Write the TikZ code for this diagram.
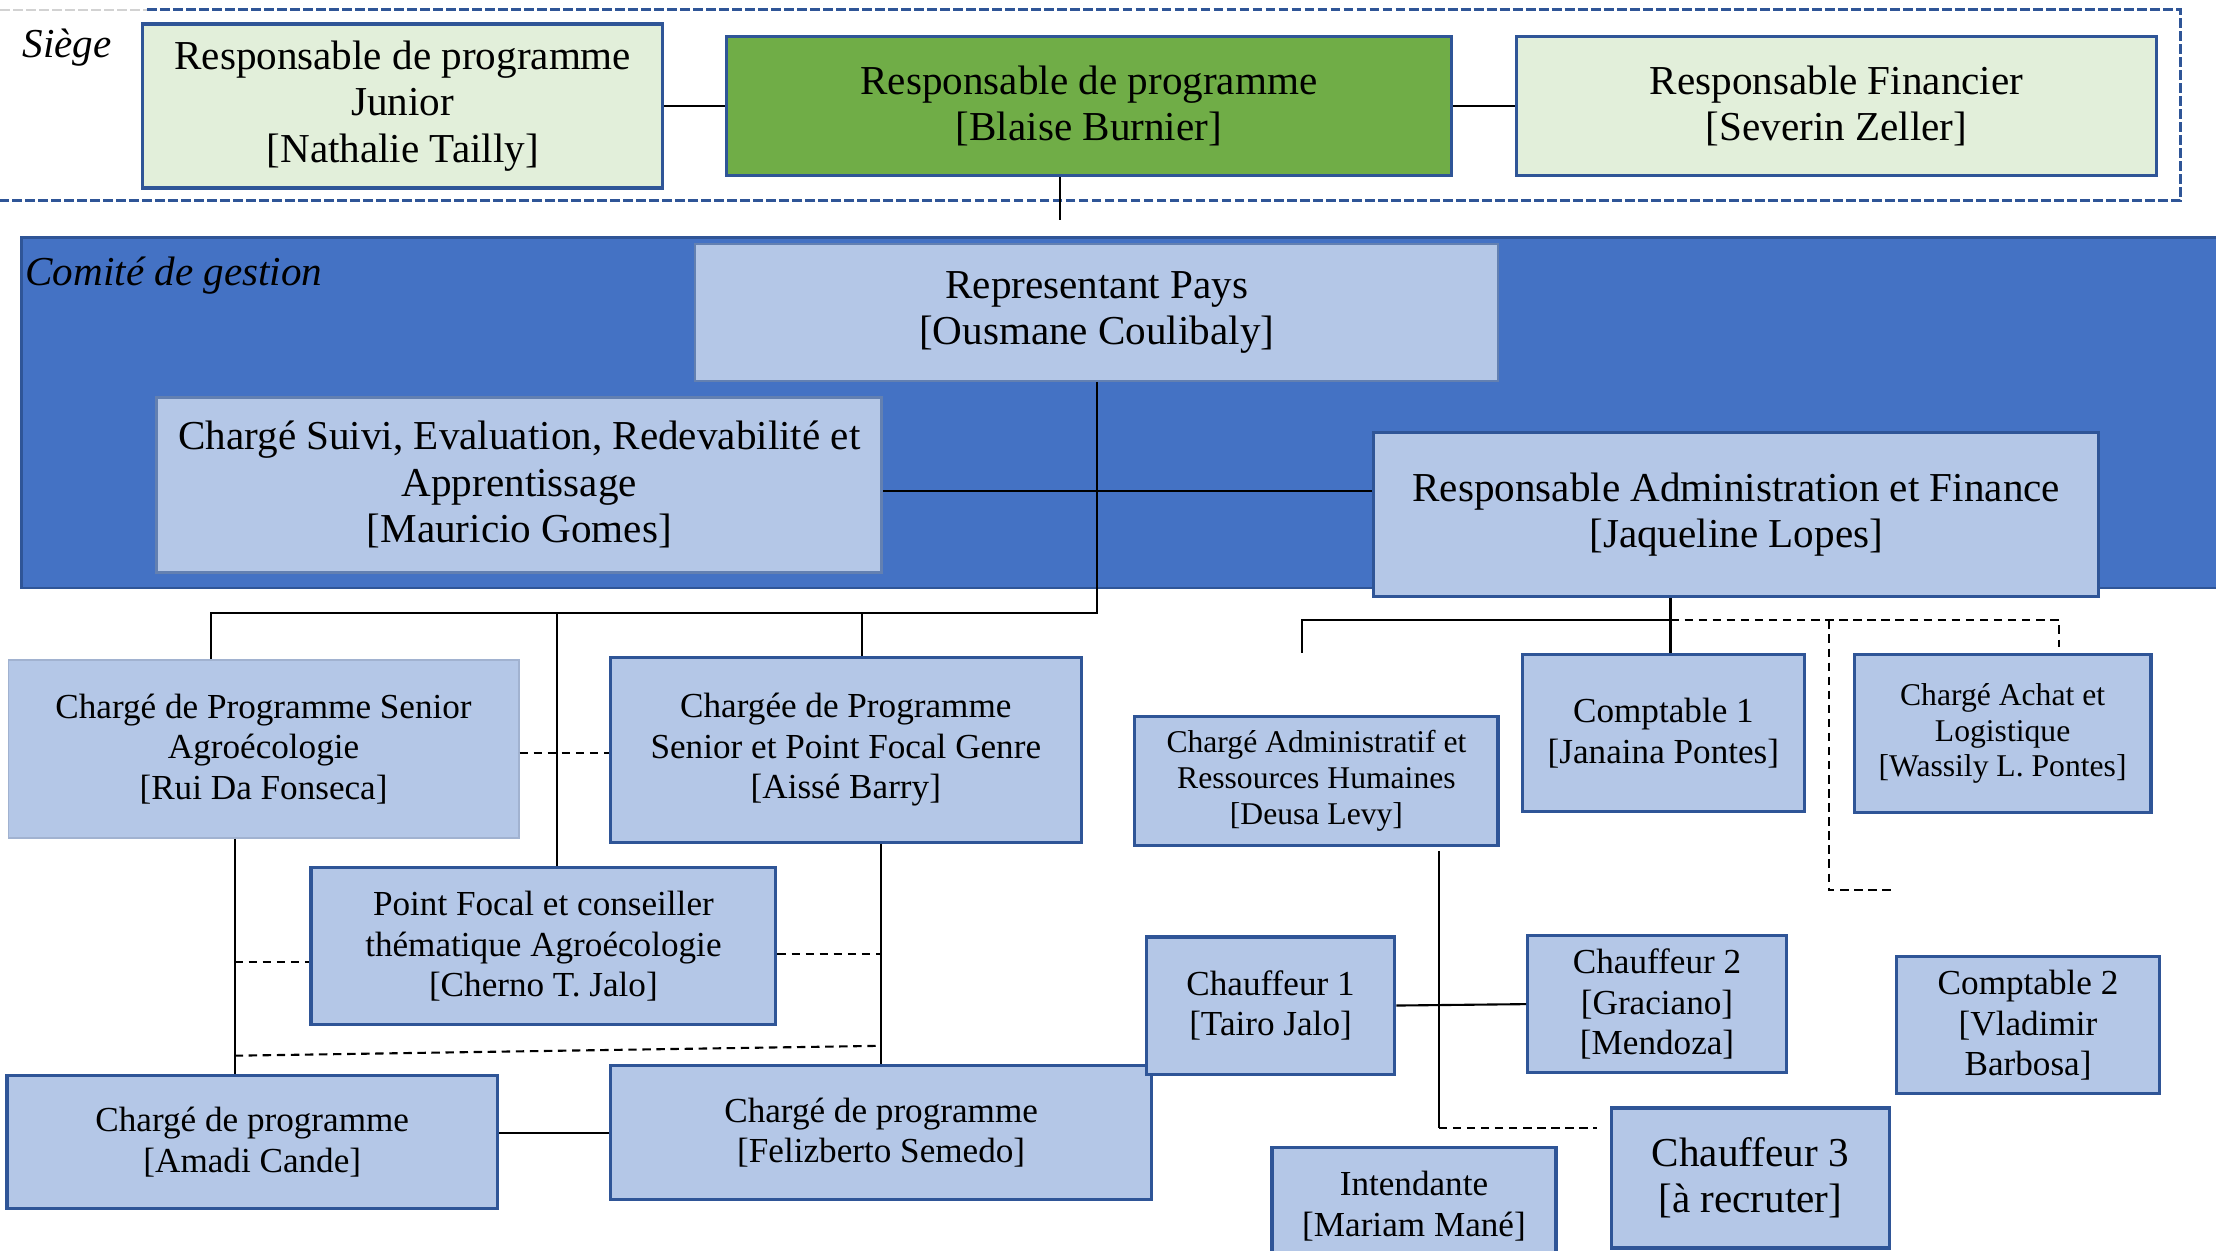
\documentclass[tikz,border=0pt]{standalone}
\usepackage{fontspec}
\setmainfont{Liberation Serif}
\definecolor{boxline}{HTML}{2F5597}
\definecolor{boxblue}{HTML}{B4C7E7}
\definecolor{bandblue}{HTML}{4472C4}
\definecolor{paleGreen}{HTML}{E2EFDA}
\definecolor{darkGreen}{HTML}{70AD47}
\newcommand{\dpx}{0.014133cm}
\newcommand{\bigtxt}{\fontsize{11.7}{13.2}\selectfont}
\newcommand{\midtxt}{\fontsize{10}{11.6}\selectfont}
\newcommand{\smtxt}{\fontsize{9}{10.2}\selectfont}
\newcommand{\nm}[1]{[#1]}
\begin{document}
\begin{tikzpicture}[x=\dpx,y=-\dpx,every path/.style={line width=0.6pt},
  box/.style={draw=boxline,fill=boxblue,line width=0.9pt,align=center,inner sep=2pt,font=\midtxt},
  sz/.style 2 args={minimum width=#1*\dpx,minimum height=#2*\dpx},
  dlink/.style={dash pattern=on 2.4pt off 1.6pt}]
\useasboundingbox (0,0) rectangle (1568,885);
% siege
\draw[boxline,line width=0.8pt,dash pattern=on 2.8pt off 0.9pt] (104,7) -- (1543,7) -- (1543,142) -- (0,142);
\draw[gray!35,dash pattern=on 2.8pt off 0.9pt] (0,7) -- (104,7);
\node[anchor=west,font=\bigtxt\itshape] (siege) at (7,34) {Siège};
\node[box,fill=paleGreen,sz={368}{116},font=\bigtxt] (rpj) at (285,75) {Responsable de programme\\Junior\\\nm{Nathalie Tailly}};
\node[box,fill=darkGreen,sz={513}{98},font=\bigtxt] (rpb) at (770.5,75) {Responsable de programme\\\nm{Blaise Burnier}};
\node[box,fill=paleGreen,sz={453}{98},font=\bigtxt] (rfi) at (1299.5,75) {Responsable Financier\\\nm{Severin Zeller}};
% comite de gestion
\fill[bandblue,draw=boxline,line width=0.8pt] (15,168) rectangle (1580,416);
\node[anchor=west,font=\bigtxt\itshape] (cdg) at (9,195) {Comité de gestion};
\node[box,draw=boxline!75,line width=0.6pt,sz={568}{97},font=\bigtxt] (rp) at (776,221) {Representant Pays\\\nm{Ousmane Coulibaly}};
\node[box,draw=boxline!75,sz={513}{124},font=\bigtxt] (cse) at (367.5,343) {Chargé Suivi, Evaluation, Redevabilité et\\Apprentissage\\\nm{Mauricio Gomes}};
\node[box,sz={513}{116},font=\bigtxt] (raf) at (1228.5,364) {Responsable Administration et Finance\\\nm{Jaqueline Lopes}};
% programme
\node[box,draw=boxline!45,line width=0.5pt,sz={361}{126}] (cps) at (186.5,530) {Chargé de Programme Senior\\Agroécologie\\\nm{Rui Da Fonseca}};
\node[box,sz={333}{131}] (cpg) at (598.5,530.5) {Chargée de Programme\\Senior et Point Focal Genre\\\nm{Aissé Barry}};
\node[box,sz={329}{111}] (pfa) at (384.5,669.5) {Point Focal et conseiller\\thématique Agroécologie\\\nm{Cherno T. Jalo}};
\node[box,sz={347}{94}] (cpa) at (178.5,808) {Chargé de programme\\\nm{Amadi Cande}};
\node[box,sz={383}{95}] (cpf) at (623.5,801.5) {Chargé de programme\\\nm{Felizberto Semedo}};
% administration
\node[box,sz={257}{91},font=\smtxt] (carh) at (931.5,552.5) {Chargé Administratif et\\Ressources Humaines\\\nm{Deusa Levy}};
\node[box,sz={200}{111}] (cpt1) at (1177,518.5) {Comptable 1\\\nm{Janaina Pontes}};
\node[box,sz={210}{112},font=\smtxt] (cal) at (1417,519) {Chargé Achat et\\Logistique\\\nm{Wassily L. Pontes}};
\node[box,sz={176}{97}] (ch1) at (899,711.5) {Chauffeur 1\\\nm{Tairo Jalo}};
\node[box,sz={183}{97}] (ch2) at (1172.5,710.5) {Chauffeur 2\\\nm{Graciano}\\\nm{Mendoza}};
\node[box,sz={186}{97}] (cpt2) at (1435,725.5) {Comptable 2\\{[}Vladimir\\Barbosa]};
\node[box,sz={201}{83}] (int) at (1000.5,853.5) {Intendante\\\nm{Mariam Mané}};
\node[box,sz={197}{99},font=\bigtxt] (ch3) at (1238.5,833.5) {Chauffeur 3\\\nm{à recruter}};
% liens siege
\coordinate (sgstub) at (750,156);
\draw (rpj.east) -- (rpb.west);
\draw (rpb.east) -- (rfi.west);
\draw (sgstub |- rpb.south) -- (sgstub);
% liens programme
\coordinate (busL) at (149,434);
\coordinate (busM) at (394,434);
\coordinate (busH) at (610,434);
\coordinate (gx) at (166,0);
\coordinate (dashL) at (166,747);
\coordinate (dashR) at (623.5,740);
\draw ([yshift=-0.06cm]cse.east) -- ([yshift=-0.06cm]cse.east -| raf.west);
\draw (rp.south) -- (rp.south |- busL) -- (busL) -- (busL |- cps.north);
\draw (busM) -- (busM |- pfa.north);
\draw (busH) -- (busH |- cpg.north);
\draw (gx |- cps.south) -- (gx |- cpa.north);
\draw (cpf.north |- cpg.south) -- (cpf.north);
\draw[dlink] ([yshift=-0.04cm]cps.east) -- ([yshift=-0.04cm]cps.east -| cpg.west);
\draw[dlink] ([yshift=-0.155cm]gx |- pfa.west) -- ([yshift=-0.155cm]pfa.west);
\draw[dlink] ([yshift=-0.08cm]pfa.east) -- ([yshift=-0.08cm]pfa.east -| cpf.north);
\draw[dlink] (dashL) -- (dashR);
\draw (cpa.east |- cpf.west) -- (cpf.west);
% liens administration
\coordinate (busR) at (1182,439);
\coordinate (carhStub) at (921,462);
\coordinate (calStub) at (1457,458);
\coordinate (achTop) at (1294,439);
\coordinate (achEnd) at (1338,630);
\coordinate (lx) at (1018,602);
\coordinate (lturn) at (1018,798);
\coordinate (lend) at (1130,798);
\draw (busR |- raf.south) -- (busR |- cpt1.north);
\draw (busR) -| (carhStub);
\draw[dlink] (busR) -| (calStub);
\draw[dlink] (achTop) |- (achEnd);
\draw (lx) -- (lturn);
\draw[dlink] (lturn) -- (lend);
\draw (ch1.east) -- (ch2.west);
\end{tikzpicture}
\end{document}
